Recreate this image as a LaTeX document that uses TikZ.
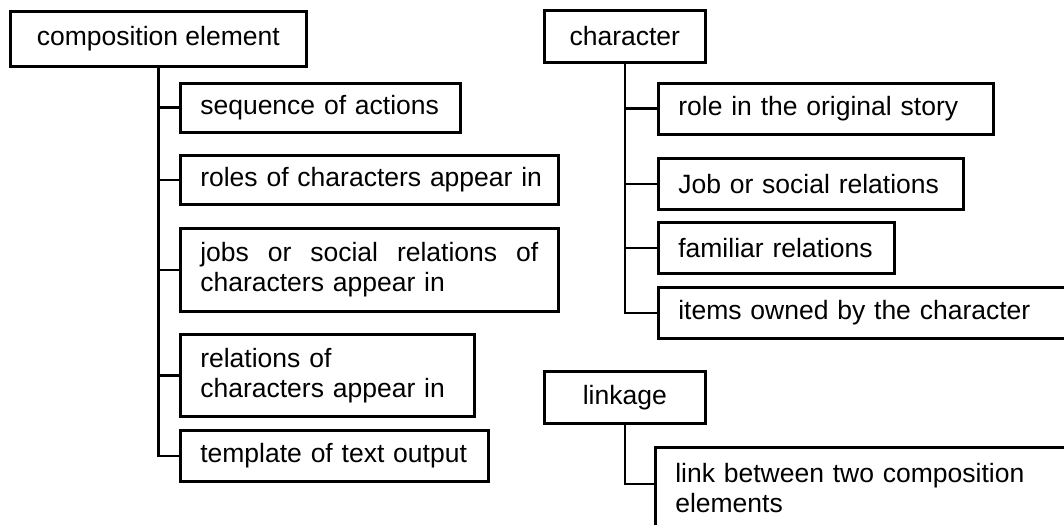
\documentclass[tikz,border=0pt]{standalone}
\usepackage{fontspec}
\setmainfont{Liberation Sans}
\begin{document}
\begin{tikzpicture}[x=1pt,y=1pt,
  box/.style={draw, rectangle, line width=2.6pt, inner ysep=0pt, anchor=north west,
    font=\fontsize{26.5}{30}\selectfont},
  head/.style={box, inner xsep=0pt, align=center},
  leaf/.style={box, inner xsep=20pt, align=left},
  wire/.style={line width=2.6pt}
]
\useasboundingbox (0,0) rectangle (1064,-524);
\clip (0,0) rectangle (1064,-524);

% composition element and its parts
\node[head, minimum width=296pt, minimum height=55pt] (ce) at (9,-10) {composition element};
\node[leaf, text width=240pt, minimum height=49pt] (seq) at (179,-82) {\mbox{sequence of actions}};
\node[leaf, text width=338pt, minimum height=49pt] (roles) at (179,-154) {\mbox{roles of characters appear in}};
\node[leaf, text width=338pt, minimum height=83pt] (jobs) at (179,-227)
  {\hbox to 338pt{jobs\hfill or\hfill social\hfill relations\hfill of}\\characters appear in};
\node[leaf, text width=254pt, minimum height=82pt] (rel) at (179,-333)
  {relations of\\characters appear in};
\node[leaf, text width=268pt, minimum height=51pt] (tmpl) at (179,-429) {\mbox{template of text output}};

% character and its attributes
\node[head, minimum width=161pt, minimum height=52pt] (ch) at (543,-9) {character};
\node[leaf, text width=295pt, minimum height=51pt] (role) at (657,-82) {\mbox{role in the original story}};
\node[leaf, text width=265pt, minimum height=51pt] (job) at (657,-157) {\mbox{Job or social relations}};
\node[leaf, text width=196pt, minimum height=51pt] (fam) at (657,-221) {\mbox{familiar relations}};
\node[leaf, text width=385pt, minimum height=51pt] (items) at (657,-286) {\mbox{items owned by the character}};

% linkage
\node[head, minimum width=161pt, minimum height=52pt] (lk) at (543,-370) {linkage};
\node[leaf, text width=390pt, minimum height=82pt] (link) at (654,-446)
  {link between two composition\\elements};

% tree connectors
\foreach \c in {seq,roles,jobs,rel,tmpl}
  \draw[wire] (ce.south) |- (\c.west);
\foreach \c in {role,job,fam,items}
  \draw[wire] (ch.south) |- (\c.west);
\draw[wire] (lk.south) |- ([yshift=-38pt]link.north west);
\end{tikzpicture}
\end{document}
